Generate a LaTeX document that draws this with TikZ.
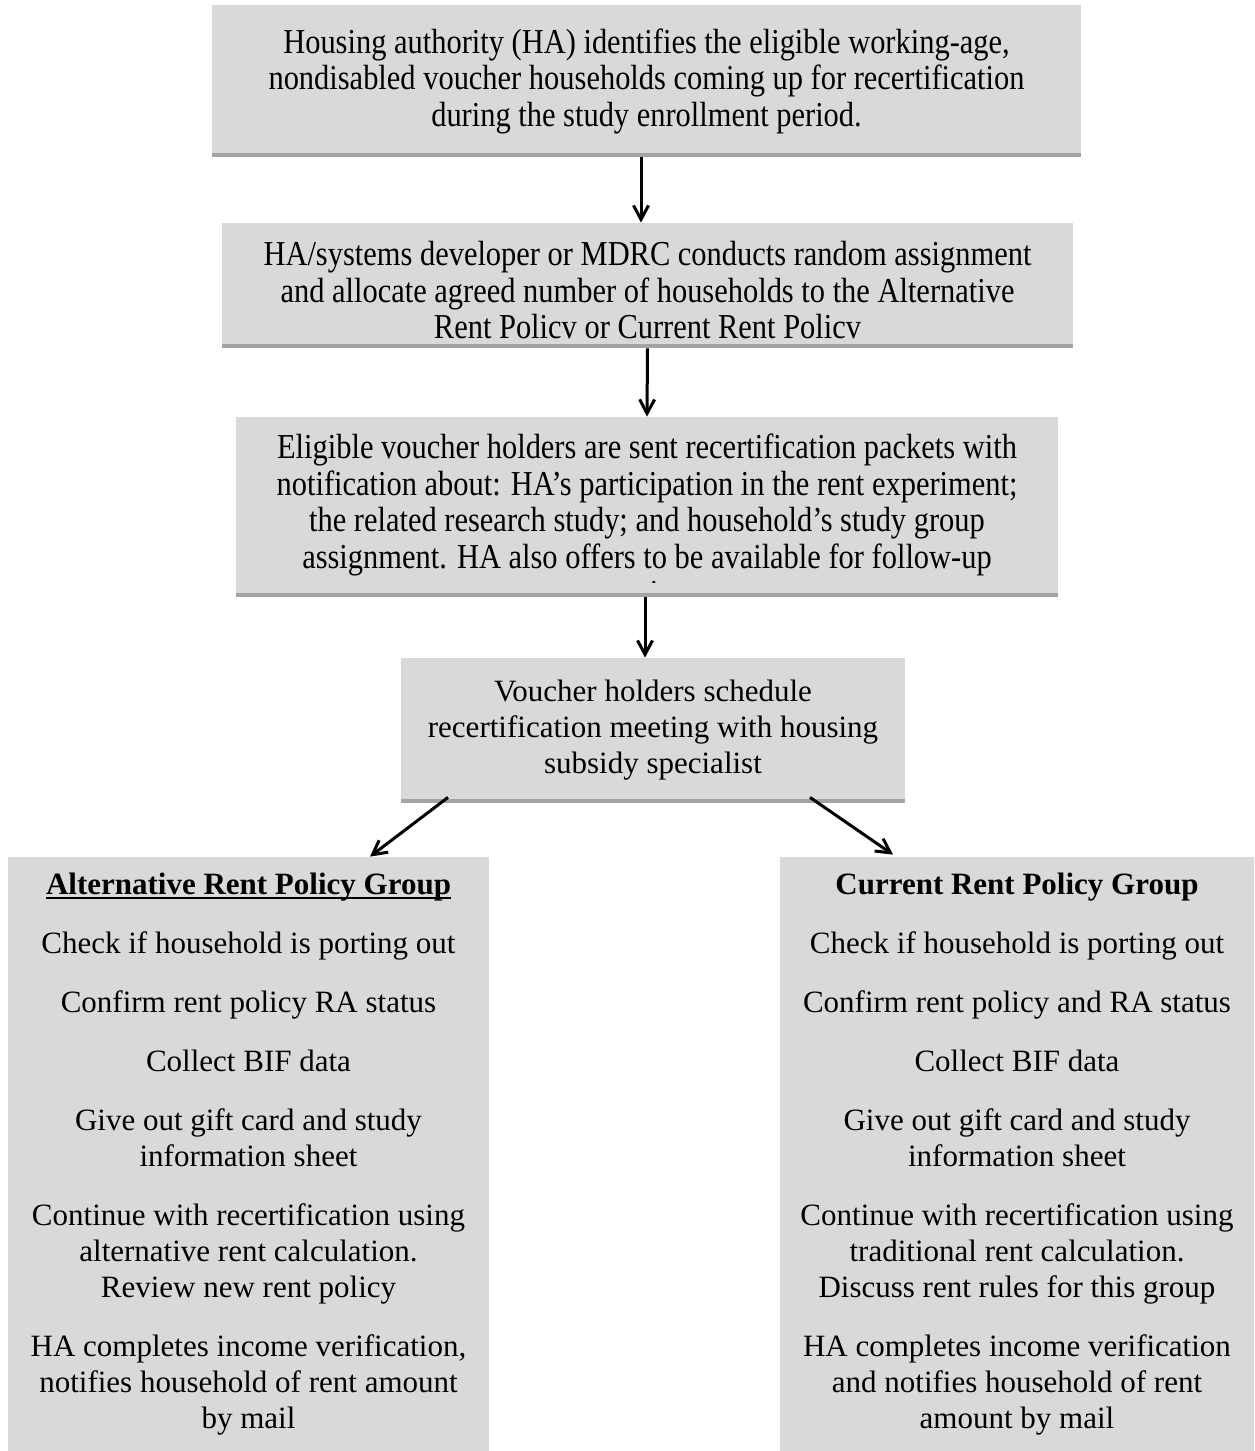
\documentclass[tikz,border=0pt]{standalone}
\usepackage{fontspec}
\setmainfont{Liberation Serif}
\newfontfamily\narrowfont[FakeStretch=0.87]{Liberation Serif}
\usepackage{tikz}
\usetikzlibrary{calc, arrows.meta}
\definecolor{boxGray}{HTML}{D9D9D9}
\definecolor{edgeGray}{HTML}{A3A3A3}
\newcommand\ulbar[1]{\setbox0\hbox{#1}\rlap{\rule[-2.4pt]{\wd0}{1.3pt}}\box0}

\begin{document}
\begin{tikzpicture}[x=0.5pt, y=-0.5pt,
    >={Straight Barb[length=7pt,width=7.5pt]},
    every node/.style={inner sep=0pt, align=center},
    flow/.style={->, line width=1.5pt},
    shadeBox/.style={fill=boxGray, path picture={
        \fill[edgeGray] ([yshift=2pt]path picture bounding box.south west)
            rectangle (path picture bounding box.south east);}},
    plainBox/.style={fill=boxGray},
    topText/.style={font=\narrowfont\fontsize{17.5pt}{18.25pt}\selectfont},
    bodyText/.style={font=\fontsize{15.5pt}{18pt}\selectfont}]
    \useasboundingbox (0,0) rectangle (1254,1451);
    % steps down the middle
    \node[shadeBox, topText, minimum width=434.5pt, minimum height=76pt] (b1) at (646.5,81)
        {Housing authority (HA) identifies the eligible working-age,\\
         nondisabled voucher households coming up for recertification\\
         during the study enrollment period.};
    \node[shadeBox, topText, minimum width=425.5pt, minimum height=62.5pt] (b2) at (647.5,285.5)
        {\rule{0pt}{17pt}HA/systems developer or MDRC conducts random assignment\\
         and allocate agreed number of households to the Alternative\\
         Rent Policv or Current Rent Policv};
    \node[shadeBox, minimum width=411pt, minimum height=90pt] (b3) at (647,507) {};
    \begin{scope}
        \clip (b3.north west) rectangle ([yshift=7.5pt]b3.south east);
        \node[topText, anchor=north] (b3txt) at ([yshift=-8.5pt]b3.north)
            {Eligible voucher holders are sent recertification packets with\\
             notification about: HA’s participation in the rent experiment;\\
             the related research study; and household’s study group\\
             assignment. HA also offers to be available for follow-up\\
             questions.};
    \end{scope}
    \node[shadeBox, bodyText, minimum width=252pt, minimum height=72.5pt] (b4) at (653,730.5)
        {Voucher holders schedule\\
         recertification meeting with housing\\
         subsidy specialist};
    % the two study groups
    \node[plainBox, bodyText, minimum width=240.5pt, minimum height=297pt] (alt) at (248.5,1154)
        {\ulbar{\textbf{Alternative Rent Policy Group}}\\[11.5pt]
         Check if household is porting out\\[11.5pt]
         Confirm rent policy RA status\\[11.5pt]
         Collect BIF data\\[11.5pt]
         Give out gift card and study\\
         information sheet\\[11.5pt]
         Continue with recertification using\\
         alternative rent calculation.\\
         Review new rent policy\\[11.5pt]
         HA completes income verification,\\
         notifies household of rent amount\\
         by mail};
    \node[plainBox, bodyText, minimum width=237pt, minimum height=297pt] (cur) at (1017,1154)
        {\textbf{Current Rent Policy Group}\\[11.5pt]
         Check if household is porting out\\[11.5pt]
         Confirm rent policy and RA status\\[11.5pt]
         Collect BIF data\\[11.5pt]
         Give out gift card and study\\
         information sheet\\[11.5pt]
         Continue with recertification using\\
         traditional rent calculation.\\
         Discuss rent rules for this group\\[11.5pt]
         HA completes income verification\\
         and notifies household of rent\\
         amount by mail};
    % arrows
    \draw[flow] ([xshift=-2.75pt]b1.south) -- ([xshift=-3.25pt]b2.north);
    \draw[flow] (b2.south) -- (b3.north);
    \draw[flow] ([xshift=-1pt]b3.south) -- ([xshift=-4pt]b4.north);
    \draw[flow] ($(b4.south)+(-205,-6)$) -- ($(alt.north)+(121.5,0)$);
    \draw[flow] ($(b4.south)+(157,-6)$) -- ($(cur.north)+(-124,-2)$);
\end{tikzpicture}
\end{document}
